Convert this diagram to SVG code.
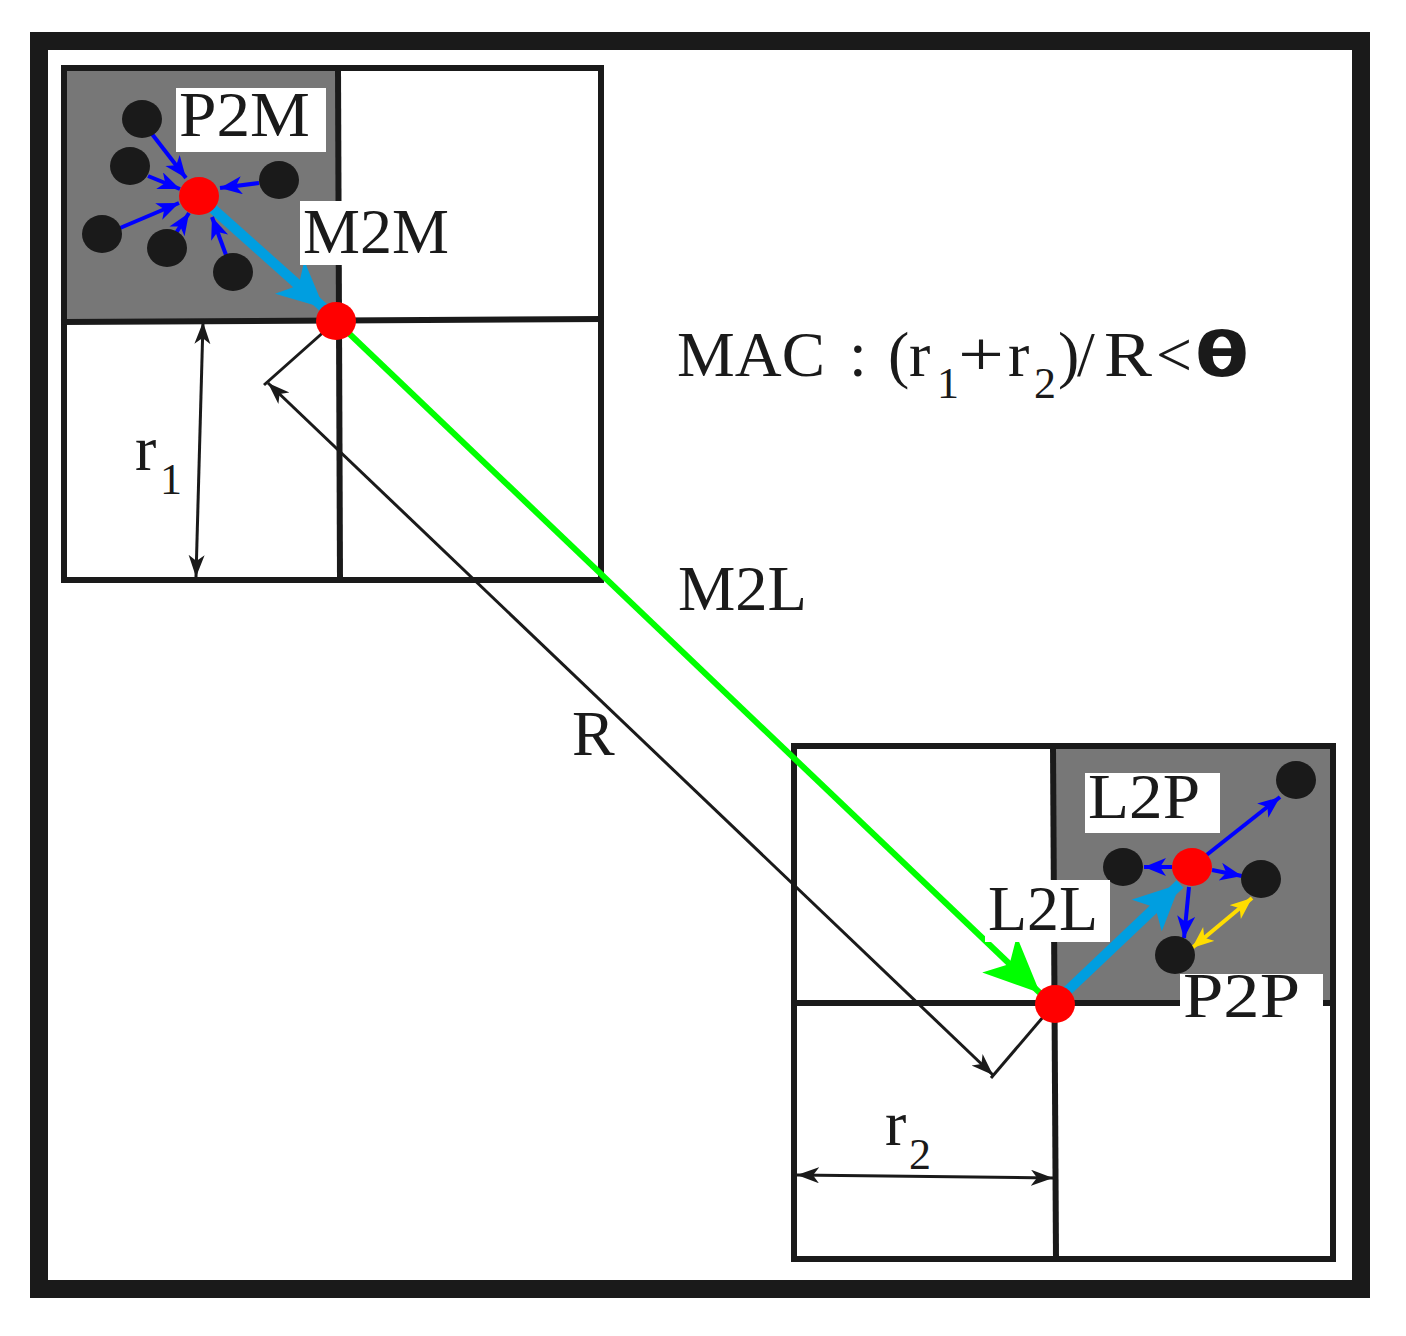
<svg xmlns="http://www.w3.org/2000/svg" width="1406" height="1336" viewBox="0 0 1406 1336">
<defs>
<style>
.ln{stroke:#1a1a1a;stroke-width:6;fill:none;stroke-linecap:square}
.cell{fill:#777777}
.pt{fill:#1a1a1a}
.rd{fill:#ff0000}
.lbl{fill:#ffffff}
.tx{font-family:"Liberation Serif","DejaVu Serif",serif;fill:#1a1a1a;font-size:64px}
.sub{font-size:44px}
.blue{stroke:#0000ff;stroke-width:4;fill:none;marker-end:url(#hb)}
.cyan{stroke:#009ee0;stroke-width:10;fill:none;marker-end:url(#hc)}
.blk{stroke:#1a1a1a;stroke-width:3;fill:none}
</style>
<marker id="hb" markerUnits="userSpaceOnUse" markerWidth="24" markerHeight="20" refX="22" refY="9" orient="auto"><path d="M0,0 L22,9 L0,18 L6,9 z" fill="#0000ff"/></marker>
<marker id="hc" markerUnits="userSpaceOnUse" markerWidth="50" markerHeight="46" refX="46" refY="22" orient="auto"><path d="M0,0 L46,22 L0,44 L12,22 z" fill="#009ee0"/></marker>
<marker id="hg" markerUnits="userSpaceOnUse" markerWidth="60" markerHeight="52" refX="56" refY="25" orient="auto"><path d="M0,0 L56,25 L0,50 L14,25 z" fill="#00ff00"/></marker>
<marker id="hk" markerUnits="userSpaceOnUse" markerWidth="24" markerHeight="18" refX="22" refY="8" orient="auto-start-reverse"><path d="M0,0 L22,8 L0,16 L6,8 z" fill="#1a1a1a"/></marker>
<marker id="hy" markerUnits="userSpaceOnUse" markerWidth="24" markerHeight="20" refX="22" refY="9" orient="auto-start-reverse"><path d="M0,0 L22,9 L0,18 L6,9 z" fill="#ffdd00"/></marker>
</defs>
<rect width="1406" height="1336" fill="#ffffff"/>
<g id="frame"><rect x="39" y="41" width="1322" height="1248" fill="none" stroke="#1a1a1a" stroke-width="18"/></g>
<g id="box1">
<rect class="cell" x="64" y="68" width="274" height="252"/>
<rect class="ln" x="64" y="68" width="537" height="512"/>
<line class="ln" x1="338" y1="68" x2="340" y2="580"/>
<line class="ln" x1="64" y1="322" x2="601" y2="319"/>
</g>
<g id="box2">
<rect class="cell" x="1055" y="746" width="278" height="257"/>
<rect class="ln" x="794" y="746" width="539" height="513"/>
<line class="ln" x1="1053" y1="746" x2="1056" y2="1259"/>
<line class="ln" x1="794" y1="1003" x2="1333" y2="1003"/>
</g>
<g id="connectors">
<line x1="336" y1="321" x2="1040" y2="993" stroke="#00ff00" stroke-width="6" marker-end="url(#hg)"/>
<line class="blk" x1="336" y1="321" x2="264" y2="385"/>
<line class="blk" x1="1055" y1="1003" x2="991" y2="1078"/>
<line class="blk" x1="268" y1="383" x2="993" y2="1075" marker-start="url(#hk)" marker-end="url(#hk)"/>
<line class="blk" x1="203" y1="322" x2="196" y2="577" marker-start="url(#hk)" marker-end="url(#hk)"/>
<line class="blk" x1="797" y1="1175" x2="1053" y2="1178" marker-start="url(#hk)" marker-end="url(#hk)"/>
<line class="cyan" x1="212" y1="208" x2="324" y2="308"/>
<line class="cyan" x1="1065" y1="993" x2="1180" y2="884"/>
<line class="blue" x1="152" y1="134" x2="186" y2="178"/>
<line class="blue" x1="148" y1="176" x2="180" y2="189"/>
<line class="blue" x1="259" y1="183" x2="220" y2="188"/>
<line class="blue" x1="120" y1="228" x2="179" y2="203"/>
<line class="blue" x1="176" y1="233" x2="189" y2="213"/>
<line class="blue" x1="226" y1="255" x2="212" y2="217"/>
<line class="blue" x1="1204" y1="857" x2="1280" y2="797"/>
<line class="blue" x1="1172" y1="867" x2="1144" y2="867"/>
<line class="blue" x1="1212" y1="870" x2="1242" y2="876"/>
<line class="blue" x1="1189" y1="887" x2="1184" y2="938"/>
<line x1="1192" y1="948" x2="1252" y2="898" stroke="#ffdd00" stroke-width="4" marker-start="url(#hy)" marker-end="url(#hy)"/>
</g>
<g id="particles1">
<ellipse class="pt" cx="142" cy="119" rx="20" ry="19"/>
<ellipse class="pt" cx="130" cy="166" rx="20" ry="19"/>
<ellipse class="pt" cx="279" cy="180" rx="20" ry="19"/>
<ellipse class="pt" cx="102" cy="234" rx="20" ry="19"/>
<ellipse class="pt" cx="167" cy="248" rx="20" ry="19"/>
<ellipse class="pt" cx="233" cy="272" rx="20" ry="19"/>
</g>
<g id="particles2">
<ellipse class="pt" cx="1296" cy="780" rx="20" ry="19"/>
<ellipse class="pt" cx="1123" cy="867" rx="20" ry="19"/>
<ellipse class="pt" cx="1261" cy="879" rx="20" ry="19"/>
<ellipse class="pt" cx="1175" cy="955" rx="20" ry="19"/>
</g>
<g id="multipole1"><ellipse class="rd" cx="199" cy="196" rx="20" ry="19"/></g>
<g id="multipole2"><ellipse class="rd" cx="336" cy="321" rx="20" ry="19"/></g>
<g id="local1"><ellipse class="rd" cx="1055" cy="1004" rx="20" ry="19"/></g>
<g id="local2"><ellipse class="rd" cx="1192" cy="867" rx="20" ry="19"/></g>
<g id="label-p2m"><rect class="lbl" x="176" y="88" width="150" height="64"/><text class="tx" x="179" y="136" textLength="131" lengthAdjust="spacingAndGlyphs">P2M</text></g>
<g id="label-m2m"><rect class="lbl" x="300" y="201" width="152" height="64"/><text class="tx" x="303" y="253" textLength="146" lengthAdjust="spacingAndGlyphs">M2M</text></g>
<g id="label-l2p"><rect class="lbl" x="1085" y="773" width="135" height="60"/><text class="tx" x="1088" y="818" textLength="112" lengthAdjust="spacingAndGlyphs">L2P</text></g>
<g id="label-l2l"><rect class="lbl" x="985" y="880" width="125" height="62"/><text class="tx" x="988" y="930" textLength="110" lengthAdjust="spacingAndGlyphs">L2L</text></g>
<g id="label-p2p"><rect class="lbl" x="1180" y="974" width="143" height="46"/><text class="tx" x="1183" y="1017" textLength="117" lengthAdjust="spacingAndGlyphs">P2P</text></g>
<g id="label-m2l"><text class="tx" x="678" y="610" textLength="129" lengthAdjust="spacingAndGlyphs">M2L</text></g>
<g id="label-R"><text class="tx" x="572" y="755">R</text></g>
<g id="label-r1"><text class="tx" x="135" y="470">r</text><text class="tx sub" x="160" y="494">1</text></g>
<g id="label-r2"><text class="tx" x="885" y="1145">r</text><text class="tx sub" x="909" y="1169">2</text></g>
<g id="label-mac">
<text class="tx"><tspan x="677" y="376" textLength="148" lengthAdjust="spacingAndGlyphs">MAC</tspan><tspan x="849" y="376">:</tspan><tspan x="888" y="376">(</tspan><tspan x="909" y="376">r</tspan><tspan class="sub" x="937" y="398">1</tspan><tspan x="958" y="376" textLength="46" lengthAdjust="spacingAndGlyphs">+</tspan><tspan x="1008" y="376">r</tspan><tspan class="sub" x="1034" y="398">2</tspan><tspan x="1058" y="376">)</tspan><tspan x="1077" y="376">/</tspan><tspan x="1104" y="376" textLength="48" lengthAdjust="spacingAndGlyphs">R</tspan><tspan x="1156" y="376" textLength="36" lengthAdjust="spacingAndGlyphs">&lt;</tspan></text>
<text x="1195" y="376" font-family="DejaVu Sans, sans-serif" font-weight="bold" font-size="62" fill="#1a1a1a" textLength="54" lengthAdjust="spacingAndGlyphs">θ</text>
</g>
</svg>
